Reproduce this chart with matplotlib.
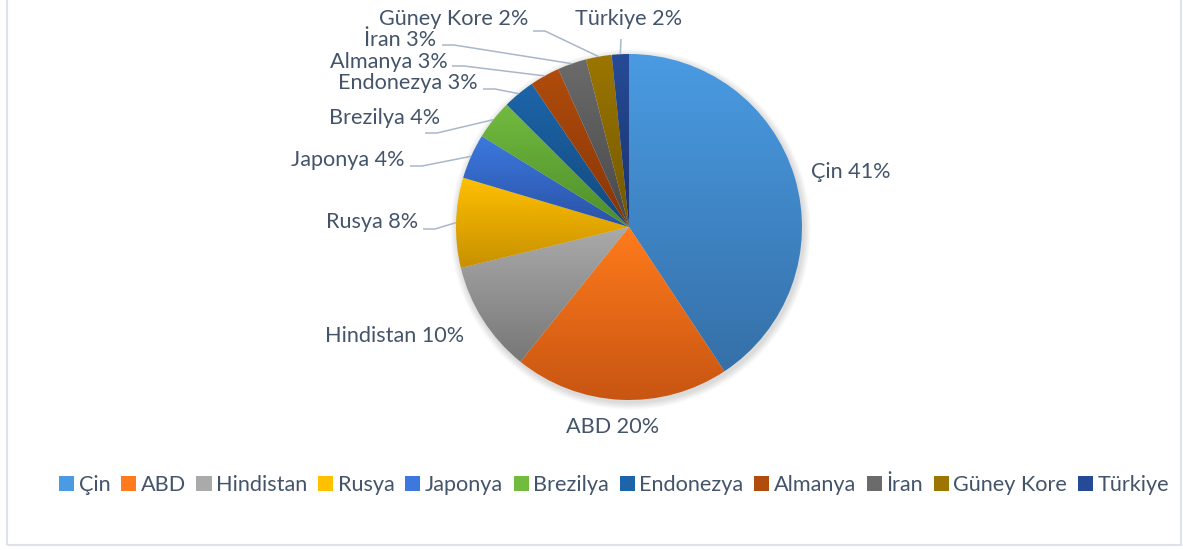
import numpy as np
import matplotlib
matplotlib.use('Agg')
import matplotlib.pyplot as plt
from matplotlib.patches import Patch, Rectangle, Circle
from matplotlib.colors import to_rgb

plt.rcParams['font.family'] = ['Lato', 'DejaVu Sans']

# data
countries = ['Çin', 'ABD', 'Hindistan', 'Rusya', 'Japonya', 'Brezilya',
             'Endonezya', 'Almanya', 'İran', 'Güney Kore', 'Türkiye']
shares = [40.7, 20.1, 10.4, 8.4, 4.2, 3.7, 3.0, 2.8, 2.7, 2.4, 1.6]
label_pct = ['41%', '20%', '10%', '8%', '4%', '4%', '3%', '3%', '3%', '2%', '2%']

# gradient colours (top, bottom) for each slice
grad_top = ['#4A9BE3', '#FF7B1C', '#AAAAAA', '#FFC000', '#3C79DE', '#72BB3F',
            '#1D65A9', '#B04C0C', '#6B6B6B', '#9C7600', '#264B96']
grad_bot = ['#3570A8', '#C85512', '#777777', '#C79000', '#2A52A6', '#4E8E2B',
            '#134A7E', '#873507', '#484848', '#735700', '#1A336E']

W, H = 1183, 550
TXT = '#44546A'
LINE = '#A9B7CA'
FS = 15.6

fig = plt.figure(figsize=(W / 100, H / 100), dpi=100)
ax = fig.add_axes([0, 0, 1, 1])

def Y(y):
    return H - y

cx, cy, R = 629, Y(227), 173

# soft shadow under the pie
for k in range(6):
    ax.add_patch(Circle((cx + 1.5, cy - 2.5), R + 1 + k * 1.2, facecolor='black',
                        edgecolor='none', alpha=0.025, zorder=0))

wedges, _ = ax.pie(shares, center=(cx, cy), radius=R, startangle=90,
                   counterclock=False, wedgeprops=dict(linewidth=0))

for w, top, bot in zip(wedges, grad_top, grad_bot):
    ext = w.get_path().get_extents()
    t = np.linspace(0, 1, 256)[:, None]
    c0, c1 = np.array(to_rgb(top)), np.array(to_rgb(bot))
    img = (c0[None, None, :] * (1 - t[..., None]) + c1[None, None, :] * t[..., None])
    w.set_facecolor('none')
    im = ax.imshow(img, extent=(ext.x0, ext.x1, ext.y0, ext.y1), origin='upper',
                   interpolation='bilinear', zorder=1)
    im.set_clip_path(w)

# labels: centre x, centre y in pixel layout
label_pos = [(851, 172), (613, 427), (395, 336), (372, 222), (348, 160),
             (385, 118), (408, 83), (389, 62), (400, 40), (454, 19), (629, 19)]
# leader line start points (None = no leader)
leader_start = [None, None, None, (423, 229), (410, 166), (425, 133),
                (483, 89), (452, 66), (442, 45), (533, 31), (621, 39)]

for w, name, pct, (lx, ly), ls in zip(wedges, countries, label_pct, label_pos, leader_start):
    ax.text(lx, Y(ly), f'{name} {pct}', ha='center', va='center',
            fontsize=FS, color=TXT, zorder=3)
    if ls is None:
        continue
    mid = np.deg2rad((w.theta1 + w.theta2) / 2)
    ex, ey = cx + R * np.cos(mid), cy + R * np.sin(mid)
    sx, sy = ls
    if name == 'Türkiye':
        xs, ys = [sx, ex], [Y(sy), ey]
    else:
        xs, ys = [sx, sx + 12, ex], [Y(sy), Y(sy), ey]
    ax.plot(xs, ys, color=LINE, lw=1.1, zorder=2, solid_capstyle='butt')

ax.set_xlim(0, W)
ax.set_ylim(0, H)
ax.set_aspect('auto')
ax.axis('off')

handles = [Patch(facecolor=c, edgecolor='none') for c in grad_top]
fig.legend(handles, countries, loc='center', bbox_to_anchor=(614 / W, 1 - 485 / H),
           ncol=len(countries), frameon=False, fontsize=FS, labelcolor=TXT,
           handlelength=0.7, handleheight=0.7, handletextpad=0.2,
           columnspacing=0.5, borderaxespad=0)

fig.add_artist(Rectangle((7, 5), 1174, 548, transform=None, fill=False,
                         edgecolor='#DEE2EA', linewidth=1.5))

fig.savefig('out.png', dpi=100)
